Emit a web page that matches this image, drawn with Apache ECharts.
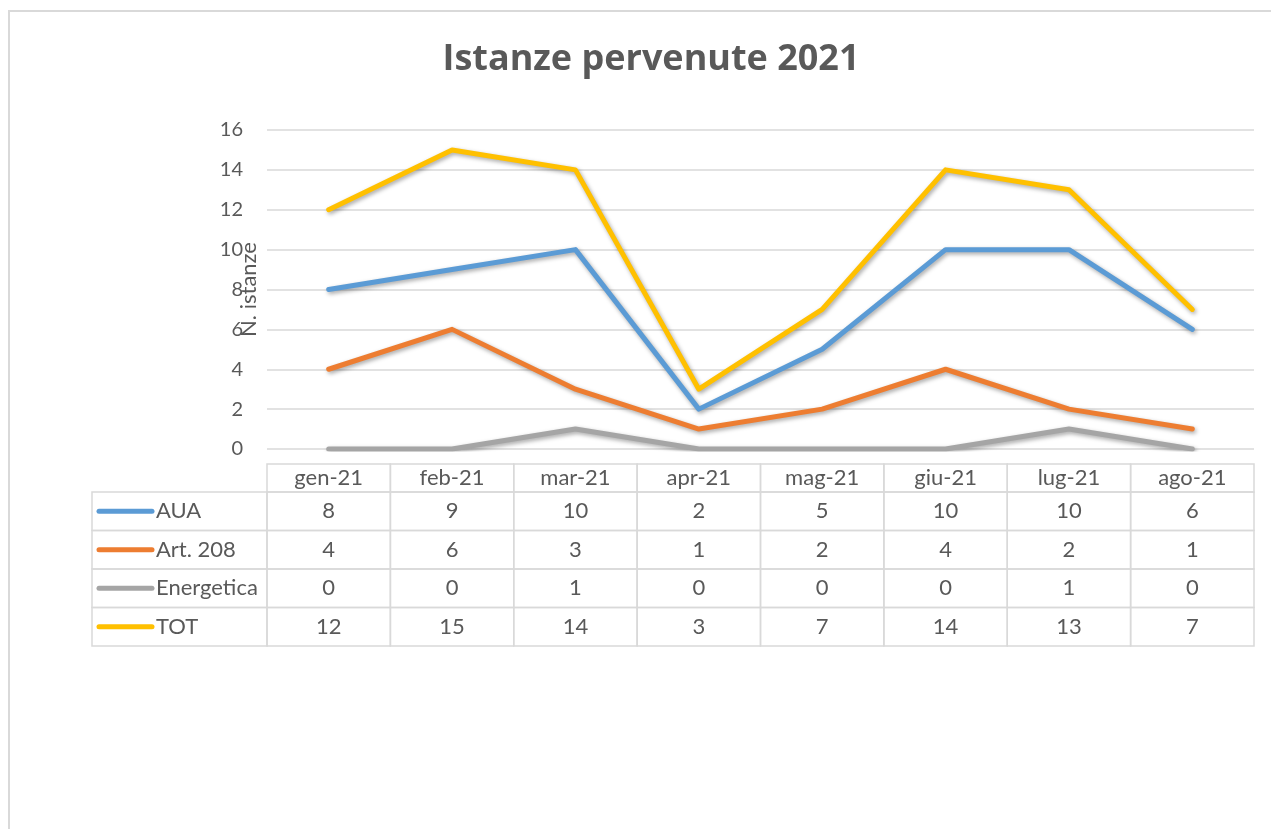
<!DOCTYPE html>
<html>
<head>
<meta charset="utf-8">
<script src="https://cdn.jsdelivr.net/npm/echarts@6/dist/echarts.min.js"></script>
<style>
html,body{margin:0;padding:0;background:#fff;}
#main{width:1271px;height:829px;}
</style>
</head>
<body>
<div id="main"></div>
<script>
const categories = ['gen-21','feb-21','mar-21','apr-21','mag-21','giu-21','lug-21','ago-21'];
const seriesNames = ['AUA','Art. 208','Energetica','TOT'];
const aua = [8,9,10,2,5,10,10,6];
const art208 = [4,6,3,1,2,4,2,1];
const energetica = [0,0,1,0,0,0,1,0];
const tot = [12,15,14,3,7,14,13,7];
const colors = ['#5B9BD5','#ED7D31','#A5A5A5','#FFC000'];
const yMin = 0, yMax = 16, yStep = 2;

const allValues = [aua, art208, energetica, tot];
const tableData = [];
allValues.forEach((vals, r) => vals.forEach((v, c) => tableData.push([c, r, v])));

const FONT = 'Lato, "Liberation Sans", sans-serif';
const TXT = '#595959';
const BORDER = '#D9D9D9';
const HEADER_H = 28;
const LABEL_W = 175;
const TFONT = '22px ' + FONT;

const chart = echarts.init(document.getElementById('main'));

function lineSeries(name, data, color) {
  return {
    name, type: 'line', data, xAxisIndex: 0, yAxisIndex: 0,
    symbol: 'none', smooth: false,
    lineStyle: { color, width: 5, cap: 'round', join: 'round',
      shadowColor: 'rgba(0,0,0,0.35)', shadowBlur: 4, shadowOffsetX: 1.5, shadowOffsetY: 2 },
    itemStyle: { color }, z: 3
  };
}

chart.setOption({
  animation: false,
  backgroundColor: '#fff',
  textStyle: { fontFamily: FONT },
  title: {
    text: 'Istanze pervenute 2021', left: 646, top: 37, textAlign: 'center',
    textStyle: { fontFamily: '"Open Sans", Lato, sans-serif', fontWeight: 'bold', fontSize: 36, color: TXT }
  },
  graphic: [{
    type: 'rect', shape: { x: 9, y: 11, width: 1300, height: 900 }, silent: true, z: -10,
    style: { fill: null, stroke: BORDER, lineWidth: 2 }
  }],
  grid: [
    { left: 267, right: 17, top: 130, height: 319 },
    { left: 267, right: 17, top: 492, height: 154 }
  ],
  xAxis: [
    { type: 'category', gridIndex: 0, data: categories, boundaryGap: true,
      axisLine: { show: false }, axisTick: { show: false }, axisLabel: { show: false } },
    { type: 'category', gridIndex: 1, data: categories, boundaryGap: true, show: false }
  ],
  yAxis: [
    { type: 'value', gridIndex: 0, min: yMin, max: yMax, interval: yStep,
      name: 'N. istanze', nameLocation: 'middle', nameRotate: 90, nameGap: 7, nameMoveOverlap: false,
      nameTextStyle: { fontFamily: FONT, fontSize: 22, color: TXT },
      axisLine: { show: false }, axisTick: { show: false },
      axisLabel: { margin: 24, fontFamily: FONT, fontSize: 20, color: TXT },
      splitLine: { lineStyle: { color: BORDER, width: 1.5 } } },
    { type: 'category', gridIndex: 1, data: seriesNames, inverse: true, show: false }
  ],
  series: [
    lineSeries('AUA', aua, colors[0]),
    lineSeries('Art. 208', art208, colors[1]),
    lineSeries('Energetica', energetica, colors[2]),
    lineSeries('TOT', tot, colors[3]),
    {
      type: 'custom', xAxisIndex: 1, yAxisIndex: 1, data: tableData, clip: false, silent: true,
      renderItem: function (params, api) {
        const c = api.value(0), r = api.value(1), v = api.value(2);
        const pt = api.coord([c, r]);
        const sz = api.size([1, 1]);
        const x = pt[0] - sz[0] / 2, y = pt[1] - sz[1] / 2, w = sz[0], h = sz[1];
        const bs = { fill: null, stroke: BORDER, lineWidth: 1.5 };
        const children = [
          { type: 'rect', shape: { x, y, width: w, height: h }, style: bs },
          { type: 'text', style: { text: String(v), x: pt[0], y: pt[1], align: 'center', verticalAlign: 'middle',
              font: TFONT, fill: TXT } }
        ];
        if (r === 0) {
          children.push({ type: 'rect', shape: { x, y: y - HEADER_H, width: w, height: HEADER_H }, style: bs });
          children.push({ type: 'text', style: { text: categories[c], x: pt[0], y: y - HEADER_H / 2,
              align: 'center', verticalAlign: 'middle', font: TFONT, fill: TXT } });
        }
        if (c === 0) {
          children.push({ type: 'rect', shape: { x: x - LABEL_W, y, width: LABEL_W, height: h }, style: bs });
          children.push({ type: 'line', shape: { x1: x - LABEL_W + 7, y1: pt[1], x2: x - LABEL_W + 60, y2: pt[1] },
              style: { stroke: colors[r], lineWidth: 5, lineCap: 'round' } });
          children.push({ type: 'text', style: { text: seriesNames[r], x: x - LABEL_W + 64, y: pt[1],
              align: 'left', verticalAlign: 'middle', font: TFONT, fill: TXT } });
        }
        return { type: 'group', children };
      }
    }
  ]
});
</script>
</body>
</html>
